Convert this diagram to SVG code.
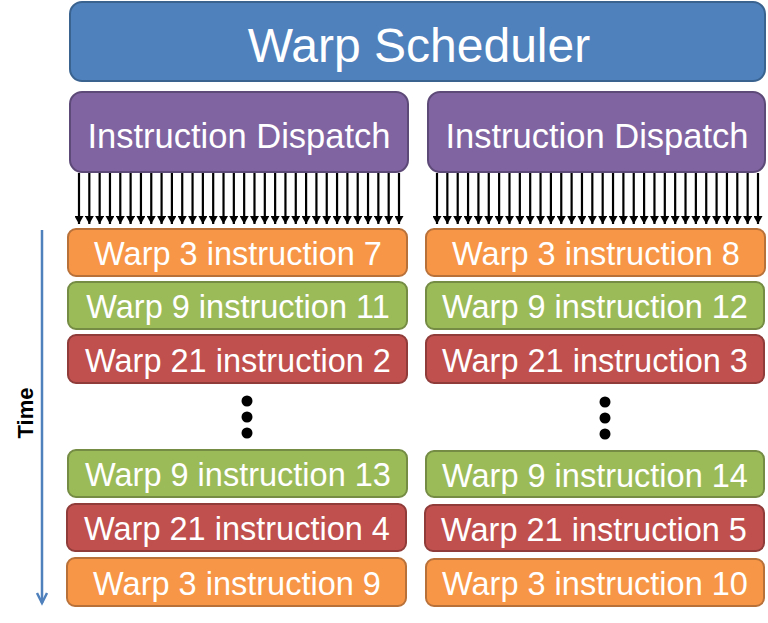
<svg xmlns="http://www.w3.org/2000/svg" width="768" height="623" viewBox="0 0 768 623">
<style>
  .lbl { font-family: "Liberation Sans", Arial, sans-serif; fill: #ffffff; text-anchor: middle; }
  .box { font-size: 32.5px; }
  .blue { fill: #4f81bd; stroke: #3a6390; stroke-width: 2; }
  .purple { fill: #8064a2; stroke: #5e4a78; stroke-width: 2; }
  .orange { fill: #f79646; stroke: #b9713a; stroke-width: 2; }
  .green { fill: #9bbb59; stroke: #748c43; stroke-width: 2; }
  .red { fill: #c0504d; stroke: #8f3c3a; stroke-width: 2; }
  .thr { stroke: #000; stroke-width: 2.2; marker-end: url(#ah); }
  .dot { fill: #000; }
</style>
<defs>
  <marker id="ah" markerUnits="userSpaceOnUse" markerWidth="9" markerHeight="9" viewBox="0 0 9 9" refX="8" refY="4.5" orient="auto">
    <path d="M0,0 L8,4.5 L0,9 z" fill="#000"/>
  </marker>
</defs>
<rect width="768" height="623" fill="#ffffff"/>

<g id="time-axis">
  <line x1="42" y1="230" x2="42" y2="603" stroke="#4f81bd" stroke-width="2.5"/>
  <path d="M37,593 L42,603 L47,593" fill="none" stroke="#4f81bd" stroke-width="2.5"/>
  <text x="0" y="0" transform="translate(33,413) rotate(-90)" font-family="Liberation Sans, Arial, sans-serif" font-weight="bold" font-size="22" text-anchor="middle" fill="#000">Time</text>
</g>

<g id="warp-scheduler">
  <rect class="blue" x="70" y="2" width="695" height="79" rx="12"/>
  <text class="lbl" x="419" y="62" font-size="48">Warp Scheduler</text>
</g>

<g id="dispatch-left">
  <rect class="purple" x="70" y="92" width="338" height="80" rx="12"/>
  <text class="lbl" x="239" y="148" font-size="34.5">Instruction Dispatch</text>
</g>
<g id="dispatch-right">
  <rect class="purple" x="428" y="92" width="337" height="80" rx="12"/>
  <text class="lbl" x="597" y="148" font-size="34.5">Instruction Dispatch</text>
</g>

<g id="connectors">
  <line class="thr" x1="79" y1="173" x2="79" y2="224"/>
  <line class="thr" x1="89.32" y1="173" x2="89.32" y2="224"/>
  <line class="thr" x1="99.65" y1="173" x2="99.65" y2="224"/>
  <line class="thr" x1="109.97" y1="173" x2="109.97" y2="224"/>
  <line class="thr" x1="120.29" y1="173" x2="120.29" y2="224"/>
  <line class="thr" x1="130.61" y1="173" x2="130.61" y2="224"/>
  <line class="thr" x1="140.94" y1="173" x2="140.94" y2="224"/>
  <line class="thr" x1="151.26" y1="173" x2="151.26" y2="224"/>
  <line class="thr" x1="161.58" y1="173" x2="161.58" y2="224"/>
  <line class="thr" x1="171.9" y1="173" x2="171.9" y2="224"/>
  <line class="thr" x1="182.23" y1="173" x2="182.23" y2="224"/>
  <line class="thr" x1="192.55" y1="173" x2="192.55" y2="224"/>
  <line class="thr" x1="202.87" y1="173" x2="202.87" y2="224"/>
  <line class="thr" x1="213.19" y1="173" x2="213.19" y2="224"/>
  <line class="thr" x1="223.52" y1="173" x2="223.52" y2="224"/>
  <line class="thr" x1="233.84" y1="173" x2="233.84" y2="224"/>
  <line class="thr" x1="244.16" y1="173" x2="244.16" y2="224"/>
  <line class="thr" x1="254.48" y1="173" x2="254.48" y2="224"/>
  <line class="thr" x1="264.81" y1="173" x2="264.81" y2="224"/>
  <line class="thr" x1="275.13" y1="173" x2="275.13" y2="224"/>
  <line class="thr" x1="285.45" y1="173" x2="285.45" y2="224"/>
  <line class="thr" x1="295.77" y1="173" x2="295.77" y2="224"/>
  <line class="thr" x1="306.1" y1="173" x2="306.1" y2="224"/>
  <line class="thr" x1="316.42" y1="173" x2="316.42" y2="224"/>
  <line class="thr" x1="326.74" y1="173" x2="326.74" y2="224"/>
  <line class="thr" x1="337.06" y1="173" x2="337.06" y2="224"/>
  <line class="thr" x1="347.39" y1="173" x2="347.39" y2="224"/>
  <line class="thr" x1="357.71" y1="173" x2="357.71" y2="224"/>
  <line class="thr" x1="368.03" y1="173" x2="368.03" y2="224"/>
  <line class="thr" x1="378.35" y1="173" x2="378.35" y2="224"/>
  <line class="thr" x1="388.68" y1="173" x2="388.68" y2="224"/>
  <line class="thr" x1="399" y1="173" x2="399" y2="224"/>

  <line class="thr" x1="437" y1="173" x2="437" y2="224"/>
  <line class="thr" x1="447.35" y1="173" x2="447.35" y2="224"/>
  <line class="thr" x1="457.71" y1="173" x2="457.71" y2="224"/>
  <line class="thr" x1="468.06" y1="173" x2="468.06" y2="224"/>
  <line class="thr" x1="478.42" y1="173" x2="478.42" y2="224"/>
  <line class="thr" x1="488.77" y1="173" x2="488.77" y2="224"/>
  <line class="thr" x1="499.13" y1="173" x2="499.13" y2="224"/>
  <line class="thr" x1="509.48" y1="173" x2="509.48" y2="224"/>
  <line class="thr" x1="519.84" y1="173" x2="519.84" y2="224"/>
  <line class="thr" x1="530.19" y1="173" x2="530.19" y2="224"/>
  <line class="thr" x1="540.55" y1="173" x2="540.55" y2="224"/>
  <line class="thr" x1="550.9" y1="173" x2="550.9" y2="224"/>
  <line class="thr" x1="561.26" y1="173" x2="561.26" y2="224"/>
  <line class="thr" x1="571.61" y1="173" x2="571.61" y2="224"/>
  <line class="thr" x1="581.97" y1="173" x2="581.97" y2="224"/>
  <line class="thr" x1="592.32" y1="173" x2="592.32" y2="224"/>
  <line class="thr" x1="602.68" y1="173" x2="602.68" y2="224"/>
  <line class="thr" x1="613.03" y1="173" x2="613.03" y2="224"/>
  <line class="thr" x1="623.39" y1="173" x2="623.39" y2="224"/>
  <line class="thr" x1="633.74" y1="173" x2="633.74" y2="224"/>
  <line class="thr" x1="644.1" y1="173" x2="644.1" y2="224"/>
  <line class="thr" x1="654.45" y1="173" x2="654.45" y2="224"/>
  <line class="thr" x1="664.81" y1="173" x2="664.81" y2="224"/>
  <line class="thr" x1="675.16" y1="173" x2="675.16" y2="224"/>
  <line class="thr" x1="685.52" y1="173" x2="685.52" y2="224"/>
  <line class="thr" x1="695.87" y1="173" x2="695.87" y2="224"/>
  <line class="thr" x1="706.23" y1="173" x2="706.23" y2="224"/>
  <line class="thr" x1="716.58" y1="173" x2="716.58" y2="224"/>
  <line class="thr" x1="726.94" y1="173" x2="726.94" y2="224"/>
  <line class="thr" x1="737.29" y1="173" x2="737.29" y2="224"/>
  <line class="thr" x1="747.65" y1="173" x2="747.65" y2="224"/>
  <line class="thr" x1="758" y1="173" x2="758" y2="224"/>
</g>

<g id="left-w3-i7"><rect class="orange" x="68" y="229" width="339" height="47" rx="8"/><text class="lbl box" x="238" y="265">Warp 3 instruction 7</text></g>
<g id="left-w9-i11"><rect class="green" x="68" y="282" width="339" height="47" rx="8"/><text class="lbl box" x="238" y="318">Warp 9 instruction 11</text></g>
<g id="left-w21-i2"><rect class="red" x="68" y="335" width="339" height="48" rx="8"/><text class="lbl box" x="238" y="372">Warp 21 instruction 2</text></g>
<g id="left-dots"><circle class="dot" cx="247" cy="401" r="5.5"/><circle class="dot" cx="247" cy="417" r="5.5"/><circle class="dot" cx="247" cy="433" r="5.5"/></g>
<g id="left-w9-i13"><rect class="green" x="68" y="450" width="339" height="47" rx="8"/><text class="lbl box" x="238" y="486">Warp 9 instruction 13</text></g>
<g id="left-w21-i4"><rect class="red" x="67" y="504" width="339" height="47" rx="8"/><text class="lbl box" x="237" y="540">Warp 21 instruction 4</text></g>
<g id="left-w3-i9"><rect class="orange" x="67" y="558" width="339" height="48" rx="8"/><text class="lbl box" x="237" y="595">Warp 3 instruction 9</text></g>

<g id="right-w3-i8"><rect class="orange" x="426" y="229" width="339" height="47" rx="8"/><text class="lbl box" x="596" y="265">Warp 3 instruction 8</text></g>
<g id="right-w9-i12"><rect class="green" x="426" y="282" width="338" height="47" rx="8"/><text class="lbl box" x="595" y="318">Warp 9 instruction 12</text></g>
<g id="right-w21-i3"><rect class="red" x="426" y="335" width="338" height="48" rx="8"/><text class="lbl box" x="595" y="372">Warp 21 instruction 3</text></g>
<g id="right-dots"><circle class="dot" cx="605" cy="402" r="5.5"/><circle class="dot" cx="605" cy="418" r="5.5"/><circle class="dot" cx="605" cy="434" r="5.5"/></g>
<g id="right-w9-i14"><rect class="green" x="426" y="451" width="338" height="46" rx="8"/><text class="lbl box" x="595" y="487">Warp 9 instruction 14</text></g>
<g id="right-w21-i5"><rect class="red" x="425" y="505" width="339" height="46" rx="8"/><text class="lbl box" x="594" y="541">Warp 21 instruction 5</text></g>
<g id="right-w3-i10"><rect class="orange" x="426" y="559" width="338" height="47" rx="8"/><text class="lbl box" x="595" y="595">Warp 3 instruction 10</text></g>
</svg>
